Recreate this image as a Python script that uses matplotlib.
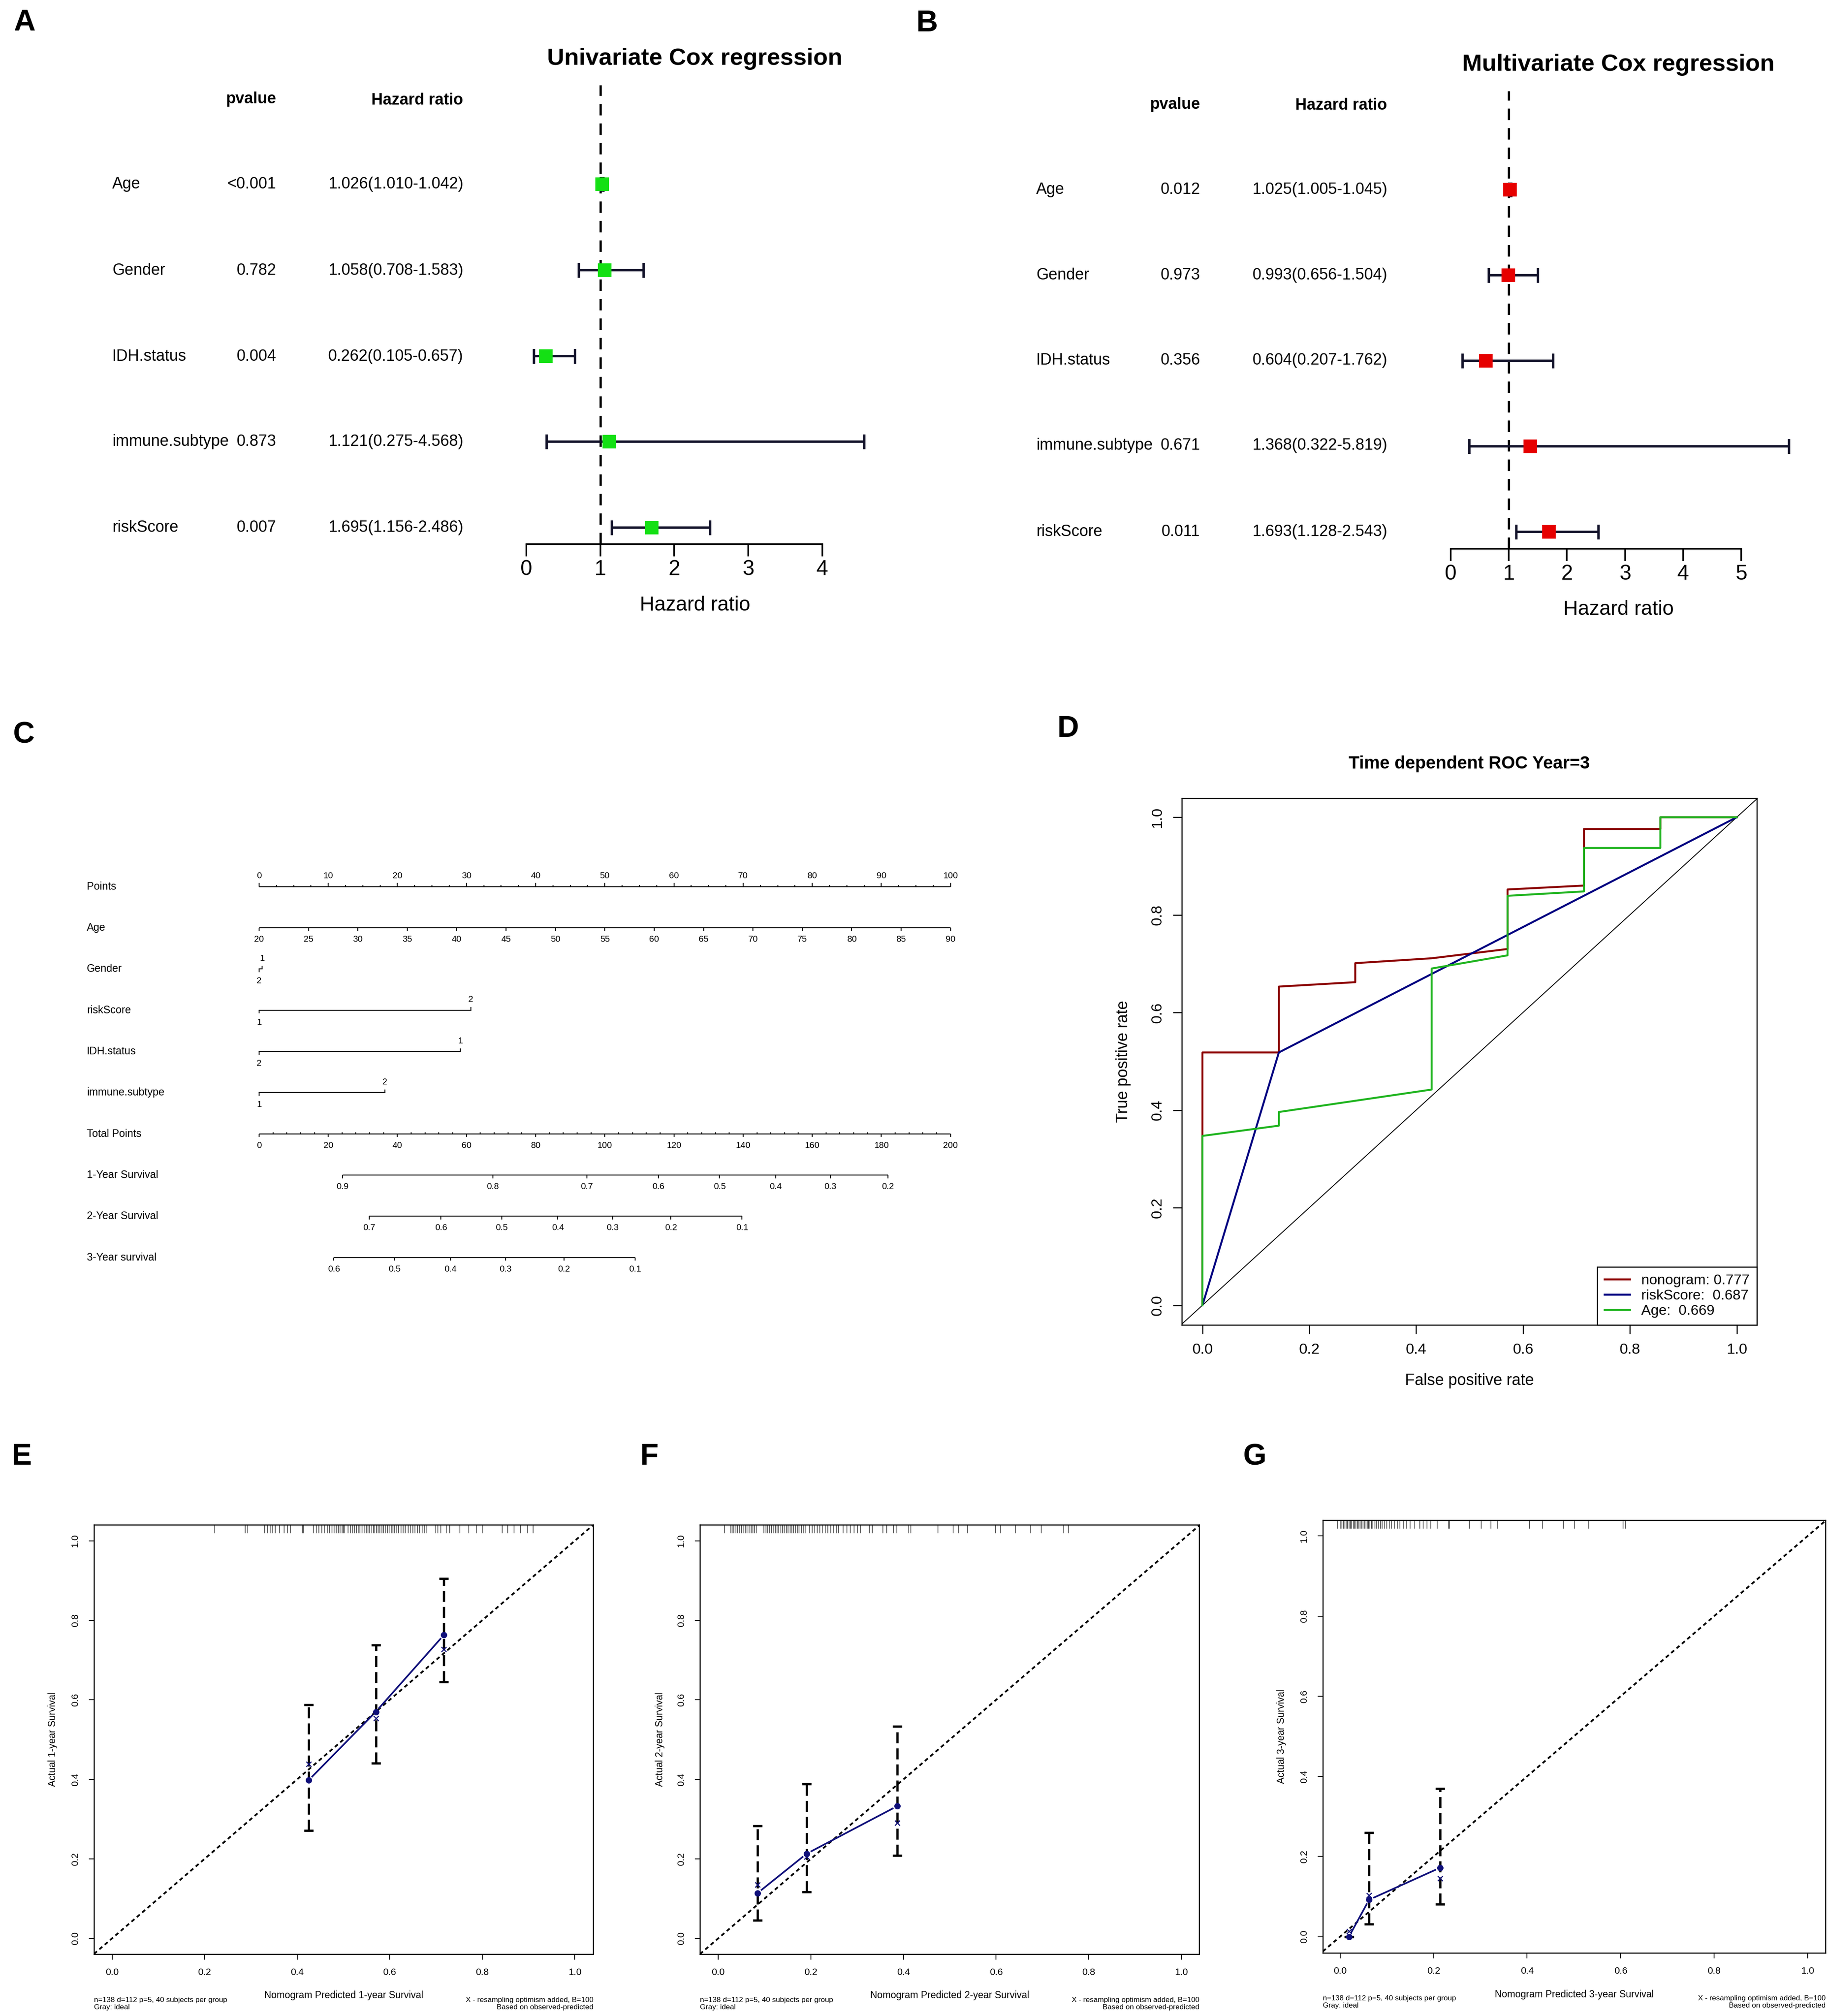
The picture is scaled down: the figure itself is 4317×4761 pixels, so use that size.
import numpy as np
import matplotlib
matplotlib.use('Agg')
import matplotlib.pyplot as plt
import matplotlib.transforms as mtransforms
from matplotlib.ticker import FormatStrFormatter

plt.rcParams['font.family'] = ['Liberation Sans', 'DejaVu Sans']

W, H = 4317, 4761
DPI = 300

# ---------------- data ----------------
# Cox regression (A, B)
cox_vars = ['Age', 'Gender', 'IDH.status', 'immune.subtype', 'riskScore']
uni_p = ['<0.001', '0.782', '0.004', '0.873', '0.007']
uni_hr = [1.026, 1.058, 0.262, 1.121, 1.695]
uni_lo = [1.010, 0.708, 0.105, 0.275, 1.156]
uni_hi = [1.042, 1.583, 0.657, 4.568, 2.486]
multi_p = ['0.012', '0.973', '0.356', '0.671', '0.011']
multi_hr = [1.025, 0.993, 0.604, 1.368, 1.693]
multi_lo = [1.005, 0.656, 0.207, 0.322, 1.128]
multi_hi = [1.045, 1.504, 1.762, 5.819, 2.543]

# nomogram (C)
nomo_rows = ['Points', 'Age', 'Gender', 'riskScore', 'IDH.status',
             'immune.subtype', 'Total Points', '1-Year Survival',
             '2-Year Survival', '3-Year survival']
points_ticks = list(range(0, 101, 10))
age_vals = list(range(20, 91, 5))
gender_vals = ['1', '2']
gender_pts = [0.45, 0.0]
risk_vals = ['1', '2']
risk_pts = [0.0, 30.6]
idh_vals = ['2', '1']
idh_pts = [0.0, 29.1]
immune_vals = ['1', '2']
immune_pts = [0.0, 18.2]
total_ticks = list(range(0, 201, 20))
surv1_vals = [0.9, 0.8, 0.7, 0.6, 0.5, 0.4, 0.3, 0.2]
surv1_total = [24.1, 67.6, 94.8, 115.5, 133.2, 149.4, 165.2, 181.9]
surv2_vals = [0.7, 0.6, 0.5, 0.4, 0.3, 0.2, 0.1]
surv2_total = [31.8, 52.6, 70.2, 86.4, 102.3, 119.1, 139.7]
surv3_vals = [0.6, 0.5, 0.4, 0.3, 0.2, 0.1]
surv3_total = [21.6, 39.2, 55.4, 71.3, 88.2, 108.8]

# time dependent ROC (D)
fpr_nomo = [0, 0, 0.143, 0.143, 0.286, 0.286, 0.429, 0.571, 0.571, 0.714, 0.714, 0.857, 0.857, 1.0]
tpr_nomo = [0, 0.518, 0.518, 0.653, 0.662, 0.701, 0.711, 0.730, 0.852, 0.860, 0.976, 0.976, 1.0, 1.0]
fpr_risk = [0, 0.143, 1.0]
tpr_risk = [0, 0.518, 1.0]
fpr_age = [0, 0, 0.143, 0.143, 0.429, 0.429, 0.571, 0.571, 0.714, 0.714, 0.857, 0.857, 1.0]
tpr_age = [0, 0.347, 0.368, 0.396, 0.442, 0.690, 0.717, 0.839, 0.848, 0.937, 0.937, 1.0, 1.0]
roc_names = ['nonogram', 'riskScore', 'Age']
roc_auc = [0.777, 0.687, 0.669]

# calibration (E, F, G)
pred1 = [0.425, 0.570, 0.717]
obs1 = [0.398, 0.570, 0.763]
lo1 = [0.271, 0.441, 0.645]
hi1 = [0.588, 0.738, 0.905]
corr1 = [0.438, 0.553, 0.727]
rug1 = [0.222, 0.288, 0.293, 0.330, 0.336, 0.342, 0.347, 0.353, 0.362, 0.372,
        0.379, 0.386, 0.411, 0.414, 0.435, 0.441, 0.447, 0.453, 0.459, 0.465,
        0.470, 0.475, 0.480, 0.484, 0.489, 0.493, 0.497, 0.500, 0.503, 0.510,
        0.516, 0.520, 0.524, 0.528, 0.532, 0.536, 0.540, 0.545, 0.549, 0.553,
        0.557, 0.561, 0.565, 0.568, 0.571, 0.575, 0.579, 0.583, 0.587, 0.591,
        0.595, 0.599, 0.603, 0.607, 0.611, 0.615, 0.619, 0.624, 0.629, 0.634,
        0.640, 0.645, 0.650, 0.655, 0.660, 0.665, 0.670, 0.676, 0.680, 0.699,
        0.704, 0.710, 0.722, 0.730, 0.752, 0.771, 0.787, 0.800, 0.843, 0.855,
        0.869, 0.882, 0.898, 0.910]

pred2 = [0.085, 0.191, 0.387]
obs2 = [0.114, 0.213, 0.333]
lo2 = [0.046, 0.117, 0.209]
hi2 = [0.283, 0.388, 0.533]
corr2 = [0.135, 0.205, 0.291]
rug2 = [0.014, 0.027, 0.030, 0.034, 0.038, 0.042, 0.046, 0.050, 0.054, 0.059,
        0.062, 0.067, 0.071, 0.075, 0.079, 0.082, 0.099, 0.103, 0.107, 0.111,
        0.115, 0.119, 0.123, 0.127, 0.131, 0.135, 0.139, 0.143, 0.147, 0.151,
        0.155, 0.159, 0.163, 0.167, 0.171, 0.175, 0.180, 0.184, 0.189, 0.197,
        0.203, 0.208, 0.214, 0.219, 0.225, 0.231, 0.237, 0.243, 0.249, 0.255,
        0.260, 0.270, 0.278, 0.285, 0.293, 0.301, 0.307, 0.326, 0.333, 0.356,
        0.364, 0.378, 0.386, 0.411, 0.416, 0.474, 0.507, 0.519, 0.538, 0.599,
        0.610, 0.642, 0.675, 0.697, 0.746, 0.756]

pred3 = [0.019, 0.062, 0.214]
obs3 = [0.0, 0.092, 0.172]
lo3 = [0.0, 0.031, 0.081]
hi3 = [0.0, 0.259, 0.369]
corr3 = [0.013, 0.103, 0.145]
rug3 = [-0.005, 0.0, 0.004, 0.007, 0.010, 0.013, 0.016, 0.019, 0.022, 0.025,
        0.028, 0.031, 0.034, 0.037, 0.040, 0.043, 0.046, 0.049, 0.052, 0.055,
        0.058, 0.061, 0.064, 0.067, 0.070, 0.074, 0.078, 0.082, 0.086, 0.090,
        0.095, 0.100, 0.105, 0.110, 0.116, 0.122, 0.128, 0.135, 0.142, 0.150,
        0.160, 0.170, 0.178, 0.186, 0.194, 0.208, 0.232, 0.234, 0.276, 0.302,
        0.323, 0.336, 0.405, 0.433, 0.477, 0.501, 0.532, 0.605, 0.611]

NAVY = '#10107a'

fig = plt.figure(figsize=(W / DPI, H / DPI), dpi=DPI)


def add_axes(left, top, right, bottom, xcal, ycal):
    # axes placed in pixel units; limits chosen so that the calibration
    # values land on the given pixel positions
    ax = fig.add_axes([left / W, 1 - bottom / H, (right - left) / W, (bottom - top) / H])
    (xv0, xp0), (xv1, xp1) = xcal
    sx = (xv1 - xv0) / (xp1 - xp0)
    ax.set_xlim(xv0 + (left - xp0) * sx, xv0 + (right - xp0) * sx)
    (yv0, yp0), (yv1, yp1) = ycal
    sy = (yv1 - yv0) / (yp1 - yp0)
    ax.set_ylim(yv0 + (bottom - yp0) * sy, yv0 + (top - yp0) * sy)
    return ax


def ftext(px, py, s, **kw):
    fig.text(px / W, 1 - py / H, s, **kw)


# ---------------- A / B : forest plots ----------------
def forest(left, right, top, bottom, x0px, xunit, row_top, row_bot,
           hr, lo, hi, color, nmax):
    ax = add_axes(left, top, right, bottom, ((0, x0px), (1, x0px + xunit)),
                  ((len(hr), row_top), (1, row_bot)))
    ypos = np.arange(len(hr), 0, -1)
    hr, lo, hi = np.array(hr), np.array(lo), np.array(hi)
    ax.axvline(1, color='black', lw=1.3, ls=(0, (5, 3.5)), zorder=1)
    ax.errorbar(hr, ypos, xerr=[hr - lo, hi - hr], fmt='none', ecolor='#12122a',
                elinewidth=1.35, capsize=4.2, capthick=1.35, zorder=2, clip_on=False)
    ax.plot(hr, ypos, 's', color=color, ms=6.5, mec=color, zorder=3, clip_on=False)
    for s in ['top', 'left', 'right']:
        ax.spines[s].set_visible(False)
    ax.spines['bottom'].set_bounds(0, nmax)
    ax.spines['bottom'].set_linewidth(0.9)
    ax.set_xticks(range(0, nmax + 1))
    ax.set_yticks([])
    ax.tick_params(axis='x', direction='out', length=7, width=0.9, labelsize=12, pad=2)
    ax.patch.set_alpha(0)
    return ax


forest(1150, 2120, 201, 1285, 1242.8, 174.8, 435, 1246,
       uni_hr, uni_lo, uni_hi, '#14e014', 4)
forest(3330, 4260, 215, 1296, 3425.6, 137.36, 448, 1256,
       multi_hr, multi_lo, multi_hi, '#e60000', 5)

ftext(58, 54, 'A', fontsize=17, fontweight='bold', ha='center', va='center')
ftext(1641, 139, 'Univariate Cox regression', fontsize=13.5, fontweight='bold', ha='center', va='center')
ftext(652, 234, 'pvalue', fontsize=9, fontweight='bold', ha='right', va='center')
ftext(1094, 237, 'Hazard ratio', fontsize=9, fontweight='bold', ha='right', va='center')
rows_a = [435, 639, 842, 1043, 1246]
for ry, name, p, h, l, u in zip(rows_a, cox_vars, uni_p, uni_hr, uni_lo, uni_hi):
    ftext(265, ry, name, fontsize=9, ha='left', va='center')
    ftext(652, ry, p, fontsize=9, ha='right', va='center')
    ftext(1094, ry, f'{h:.3f}({l:.3f}-{u:.3f})', fontsize=9, ha='right', va='center')
ftext(1641, 1430, 'Hazard ratio', fontsize=11.5, ha='center', va='center')

ftext(2189, 56, 'B', fontsize=17, fontweight='bold', ha='center', va='center')
ftext(3822, 153, 'Multivariate Cox regression', fontsize=13.5, fontweight='bold', ha='center', va='center')
ftext(2834, 247, 'pvalue', fontsize=9, fontweight='bold', ha='right', va='center')
ftext(3276, 249, 'Hazard ratio', fontsize=9, fontweight='bold', ha='right', va='center')
rows_b = [448, 650, 851, 1052, 1256]
for ry, name, p, h, l, u in zip(rows_b, cox_vars, multi_p, multi_hr, multi_lo, multi_hi):
    ftext(2447, ry, name, fontsize=9, ha='left', va='center')
    ftext(2834, ry, p, fontsize=9, ha='right', va='center')
    ftext(3276, ry, f'{h:.3f}({l:.3f}-{u:.3f})', fontsize=9, ha='right', va='center')
ftext(3822, 1440, 'Hazard ratio', fontsize=11.5, ha='center', va='center')

# ---------------- C : nomogram ----------------
ftext(56, 1737, 'C', fontsize=17, fontweight='bold', ha='center', va='center')
nax = add_axes(150, 2000, 2300, 3060, ((0, 611.9), (100, 2244.7)), ((0, 2093.8), (9, 2969.8)))
nax.axis('off')
lab_tr = mtransforms.blended_transform_factory(fig.transFigure, nax.transData)
for i, name in enumerate(nomo_rows):
    nax.text(205 / W, i, name, transform=lab_tr, ha='left', va='center', fontsize=6)

LW_N = 0.55
TFS = 5


def scale_row(i, pos, labels, up=False, tick=0.076, off=0.28, minor=None, minor_up=True):
    pos = list(pos)
    nax.plot([min(pos), max(pos)], [i, i], color='black', lw=LW_N, solid_capstyle='butt')
    d = -1 if up else 1
    nax.vlines(pos, i, i + d * tick, color='black', lw=LW_N)
    if minor is not None:
        dm = -1 if minor_up else 1
        nax.vlines(minor, i, i + dm * 0.04, color='black', lw=LW_N)
    for p, l in zip(pos, labels):
        nax.text(p, i + d * off, l, ha='center', va='center', fontsize=TFS)


def cat_row(i, pos, labels):
    top = int(np.argmax(pos))
    nax.plot([min(pos), max(pos)], [i, i], color='black', lw=LW_N)
    for k, (p, l) in enumerate(zip(pos, labels)):
        d = -1 if k == top else 1
        nax.vlines(p, i, i + d * 0.076, color='black', lw=LW_N)
        nax.text(p, i + d * (0.255 if d < 0 else 0.29), l, ha='center', va='center', fontsize=TFS)


scale_row(0, points_ticks, [str(v) for v in points_ticks], up=True, tick=0.09, off=0.255,
          minor=[v for v in np.arange(0, 100.1, 2.5) if v % 10 != 0])
scale_row(1, [(a - 20) / 70 * 100 for a in age_vals], [str(a) for a in age_vals])
cat_row(2, gender_pts, gender_vals)
cat_row(3, risk_pts, risk_vals)
cat_row(4, idh_pts, idh_vals)
cat_row(5, immune_pts, immune_vals)
scale_row(6, [t / 2 for t in total_ticks], [str(t) for t in total_ticks],
          minor=[t / 2 for t in range(0, 201, 4) if t % 20 != 0])
scale_row(7, [t / 2 for t in surv1_total], [f'{v:.1f}' for v in surv1_vals])
scale_row(8, [t / 2 for t in surv2_total], [f'{v:.1f}' for v in surv2_vals])
scale_row(9, [t / 2 for t in surv3_total], [f'{v:.1f}' for v in surv3_vals])

# ---------------- D : ROC ----------------
ftext(2522, 1722, 'D', fontsize=17, fontweight='bold', ha='center', va='center')
rax = add_axes(2791, 1885, 4149, 3129, ((0, 2839.7), (1, 4101.5)), ((0, 3082.5), (1, 1930)))
rax.axline((0, 0), (1, 1), color='black', lw=0.5)
roc_colors = ['#8b0000', '#000080', '#1fb41f']
rax.plot(fpr_nomo, tpr_nomo, color=roc_colors[0], lw=1.1,
         label=f'{roc_names[0]}: {roc_auc[0]:.3f}')
rax.plot(fpr_risk, tpr_risk, color=roc_colors[1], lw=1.1,
         label=f'{roc_names[1]}:  {roc_auc[1]:.3f}')
rax.plot(fpr_age, tpr_age, color=roc_colors[2], lw=1.1,
         label=f'{roc_names[2]}:  {roc_auc[2]:.3f}')
rax.set_xticks(np.arange(0, 1.01, 0.2))
rax.set_yticks(np.arange(0, 1.01, 0.2))
rax.xaxis.set_major_formatter(FormatStrFormatter('%.1f'))
rax.yaxis.set_major_formatter(FormatStrFormatter('%.1f'))
rax.tick_params(direction='out', length=5, width=0.6, labelsize=8.5, pad=5)
for lab in rax.get_yticklabels():
    lab.set_rotation(90)
    lab.set_va('center')
for sp in rax.spines.values():
    sp.set_linewidth(0.6)
leg = rax.legend(loc='lower right', borderaxespad=0, fontsize=8.1, handlelength=1.8,
                 handletextpad=0.8, labelspacing=0.15, borderpad=0.5, fancybox=False,
                 framealpha=1, edgecolor='black')
leg.get_frame().set_linewidth(0.6)
ftext(3470, 1804, 'Time dependent ROC Year=3', fontsize=10, fontweight='bold', ha='center', va='center')
ftext(3470, 3261, 'False positive rate', fontsize=9, ha='center', va='center')
ftext(2653, 2507, 'True positive rate', fontsize=9, ha='center', va='center', rotation=90)


# ---------------- E, F, G : calibration ----------------
def calib(box, xcal, ycal, pred, obs, lo, hi, corr, rug, year, ylab_x, lab_y, foot_y):
    left, top, right, bottom = box
    ax = add_axes(left, top, right, bottom, xcal, ycal)
    ax.axline((0, 0), (1, 1), color='black', lw=1.0, ls=(0, (2.2, 1.8)))
    ax.vlines(rug, 0.98, 1.0, transform=ax.get_xaxis_transform(), color='#444444', lw=0.4)
    pred, obs, lo, hi = map(np.array, (pred, obs, lo, hi))
    eb = ax.errorbar(pred, obs, yerr=[obs - lo, hi - obs], fmt='none', ecolor='black',
                     elinewidth=1.3, capsize=2.6, capthick=1.3)
    eb[2][0].set_linestyle((0, (4.8, 2.2)))
    for k in range(len(pred) - 1):
        dx, dy = pred[k + 1] - pred[k], obs[k + 1] - obs[k]
        g = 0.012 / np.hypot(dx, dy)
        ax.plot([pred[k] + g * dx, pred[k + 1] - g * dx],
                [obs[k] + g * dy, obs[k + 1] - g * dy], color=NAVY, lw=0.95)
    ax.plot(pred, obs, 'o', color=NAVY, ms=2.6, zorder=4)
    ax.plot(pred, corr, 'x', color=NAVY, ms=3, mew=0.6, zorder=4)
    ax.set_xticks(np.arange(0, 1.01, 0.2))
    ax.set_yticks(np.arange(0, 1.01, 0.2))
    ax.xaxis.set_major_formatter(FormatStrFormatter('%.1f'))
    ax.yaxis.set_major_formatter(FormatStrFormatter('%.1f'))
    ax.tick_params(direction='out', length=3, width=0.5, labelsize=5.4, pad=5)
    for lab in ax.get_yticklabels():
        lab.set_rotation(90)
        lab.set_va('center')
    for sp in ax.spines.values():
        sp.set_linewidth(0.6)
    cx = (left + right) / 2
    ftext(cx, lab_y, f'Nomogram Predicted {year}-year Survival', fontsize=5.5, ha='center', va='center')
    ftext(ylab_x, (top + bottom) / 2, f'Actual {year}-year Survival', fontsize=5.5,
          ha='center', va='center', rotation=90)
    ftext(left, foot_y, 'n=138 d=112 p=5, 40 subjects per group\nGray: ideal',
          fontsize=4.2, ha='left', va='center', linespacing=1.15)
    ftext(right, foot_y, 'X - resampling optimism added, B=100\nBased on observed-predicted',
          fontsize=4.2, ha='right', va='center', linespacing=1.15)
    return ax


calib((222, 3601, 1401, 4615), ((0, 264.5), (1, 1357.5)), ((0, 4577.8), (1, 3638.7)),
      pred1, obs1, lo1, hi1, corr1, rug1, 1, 125, 4712, 4732)
calib((1653, 3601, 2832, 4615), ((0, 1696), (1, 2790)), ((0, 4577.8), (1, 3638.7)),
      pred2, obs2, lo2, hi2, corr2, rug2, 2, 1559, 4712, 4732)
calib((3124, 3590, 4311, 4612), ((0, 3164.8), (1, 4269)), ((0, 4573.5), (1, 3627.4)),
      pred3, obs3, lo3, hi3, corr3, rug3, 3, 3026, 4711, 4728)

ftext(51, 3441, 'E', fontsize=17, fontweight='bold', ha='center', va='center')
ftext(1533, 3441, 'F', fontsize=17, fontweight='bold', ha='center', va='center')
ftext(2963, 3441, 'G', fontsize=17, fontweight='bold', ha='center', va='center')

fig.savefig('out.png', dpi=DPI)
